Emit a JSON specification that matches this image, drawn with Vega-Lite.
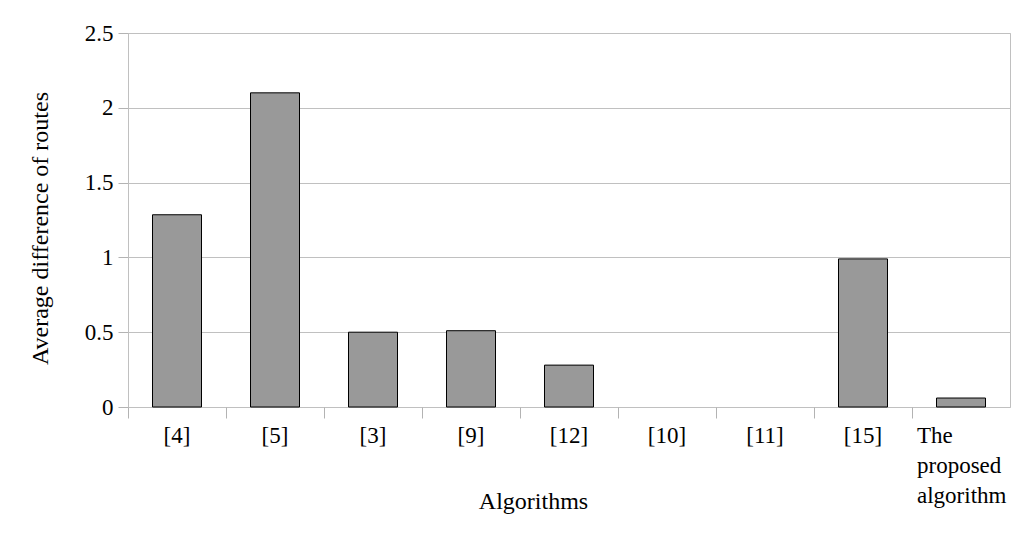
{
  "$schema": "https://vega.github.io/schema/vega-lite/v6.json",
  "width": 882,
  "height": 374,
  "autosize": "none",
  "padding": {"left": 128, "top": 33, "right": 16, "bottom": 133},
  "background": "white",
  "data": {
    "values": [
      {"algorithm": "[4]", "value": 1.285},
      {"algorithm": "[5]", "value": 2.1},
      {"algorithm": "[3]", "value": 0.5},
      {"algorithm": "[9]", "value": 0.51},
      {"algorithm": "[12]", "value": 0.28},
      {"algorithm": "[10]", "value": 0},
      {"algorithm": "[11]", "value": 0},
      {"algorithm": "[15]", "value": 0.99},
      {"algorithm": "The proposed algorithm", "value": 0.06}
    ]
  },
  "mark": {"type": "bar", "width": {"band": 0.5}, "fill": "#999999", "stroke": "#000000", "strokeWidth": 1},
  "encoding": {
    "x": {
      "field": "algorithm",
      "type": "nominal",
      "sort": null,
      "scale": {"paddingInner": 0, "paddingOuter": 0},
      "axis": {
        "title": "Algorithms",
        "labelAngle": 0,
        "bandPosition": 0,
        "grid": false,
        "domain": false,
        "tickColor": "#b3b3b3",
        "tickSize": 11,
        "labelPadding": 6,
        "labelBaseline": "top",
        "labelLineHeight": 30,
        "labelAlign": {"condition": {"test": "datum.value == 'The proposed algorithm'", "value": "left"}, "value": "center"},
        "labelOffset": {"condition": {"test": "datum.value == 'The proposed algorithm'", "value": -44}, "value": 0},
        "labelExpr": "datum.value == 'The proposed algorithm' ? ['The', 'proposed', 'algorithm'] : datum.value",
        "titleX": 405,
        "titleY": 94,
        "titleBaseline": "middle",
        "titleAnchor": null
      }
    },
    "y": {
      "field": "value",
      "type": "quantitative",
      "scale": {"domain": [0, 2.5], "nice": false},
      "axis": {
        "title": "Average difference of routes",
        "values": [0, 0.5, 1, 1.5, 2, 2.5],
        "format": "~g",
        "gridColor": "#c0c0c0",
        "domainColor": "#c0c0c0",
        "tickColor": "#b3b3b3",
        "tickSize": 10,
        "labelPadding": 5,
        "titleX": -88,
        "titleY": 195,
        "titleBaseline": "middle",
        "titleAlign": "center",
        "titleAnchor": null
      }
    },
    "strokeOpacity": {"condition": {"test": "datum.value > 0", "value": 1}, "value": 0},
    "fillOpacity": {"condition": {"test": "datum.value > 0", "value": 1}, "value": 0}
  },
  "config": {
    "view": {"stroke": "#c0c0c0", "strokeWidth": 1},
    "font": "Liberation Serif",
    "axis": {
      "labelFont": "Liberation Serif",
      "titleFont": "Liberation Serif",
      "labelFontSize": 23,
      "titleFontSize": 24,
      "labelColor": "#000000",
      "titleColor": "#000000",
      "titleFontWeight": "normal"
    }
  }
}
